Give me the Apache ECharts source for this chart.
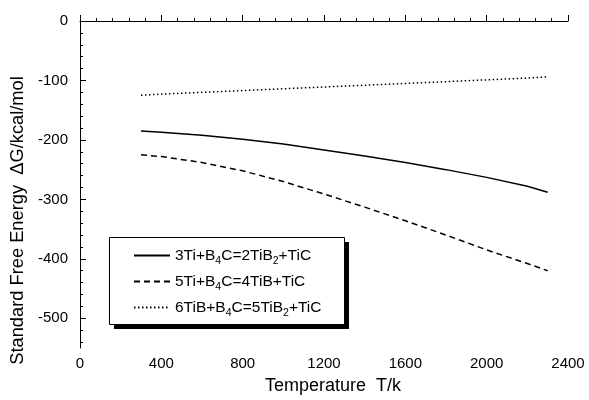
<!DOCTYPE html>
<html><head><meta charset="utf-8">
<script src="https://cdn.jsdelivr.net/npm/echarts@6/dist/echarts.min.js"></script>
<style>html,body{margin:0;padding:0;background:#fff}#c{width:589px;height:400px}</style>
</head><body><div id="c"></div>
<script>
const temps = [300, 400, 600, 800, 1000, 1200, 1400, 1600, 1800, 2000, 2200, 2300];
const r1 = [-185, -187, -192, -199, -207, -217, -227, -238, -250, -263, -278, -288];
const r2 = [-225, -228, -238, -252, -270, -291, -313, -336, -360, -385, -408, -420];
const r3 = [-125, -123, -120, -117, -114, -111, -108, -105, -102, -99, -96, -94];
const names = ['3Ti+B4C=2TiB2+TiC', '5Ti+B4C=4TiB+TiC', '6TiB+B4C=5TiB2+TiC'];
const legendRich = {
  '3Ti+B4C=2TiB2+TiC': '{a|3Ti+B}{s|4}{a|C=2TiB}{s|2}{a|+TiC}',
  '5Ti+B4C=4TiB+TiC': '{a|5Ti+B}{s|4}{a|C=4TiB+TiC}',
  '6TiB+B4C=5TiB2+TiC': '{a|6TiB+B}{s|4}{a|C=5TiB}{s|2}{a|+TiC}'
};
const yMajor = [0, -100, -200, -300, -400, -500];
const yMinor = [];
for (let v = 0; v >= -550; v -= 20) yMinor.push(v);

const font = 'Liberation Sans, Arial, sans-serif';
const chart = echarts.init(document.getElementById('c'));
const mk = (name, data, type) => ({
  name, type: 'line', symbol: 'none', showSymbol: false,
  data: temps.map((t, i) => [t, data[i]]),
  lineStyle: { color: '#000', width: type === 'dotted' ? 1.3 : 1.5, type },
  itemStyle: { color: '#000', opacity: 0 }, animation: false
});
chart.setOption({
  animation: false,
  grid: { left: 80, top: 21, right: 21, bottom: 50 },
  graphic: [
    { type: 'rect', z: 50, silent: true, shape: { x: 114, y: 242, width: 235, height: 87 }, style: { fill: '#000' } },
    { type: 'rect', z: 51, silent: true, shape: { x: 109.5, y: 237.5, width: 235, height: 87 }, style: { fill: '#fff', stroke: '#000', lineWidth: 1 } }
  ],
  legend: {
    z: 60,
    data: names, orient: 'vertical', left: 109, top: 237,
    padding: [7, 21, 8, 24], itemGap: 3, itemWidth: 36, itemHeight: 14,
    itemStyle: { opacity: 0 },
    formatter: n => legendRich[n],
    textStyle: {
      color: '#000', fontFamily: font, fontSize: 15.5,
      rich: {
        a: { fontFamily: font, fontSize: 15.5, lineHeight: 22, color: '#000' },
        s: { fontFamily: font, fontSize: 10.5, lineHeight: 10, padding: [12, 0, 0, 0], color: '#000' }
      }
    }
  },
  xAxis: {
    type: 'value', min: 0, max: 2400, interval: 400,
    name: 'Temperature  T/k', nameLocation: 'middle', nameGap: 29,
    nameTextStyle: { color: '#000', fontFamily: font, fontSize: 18, padding: [0, 0, 0, 18] },
    axisLine: { lineStyle: { color: '#000', width: 1 } },
    axisTick: { inside: true, length: 6, lineStyle: { color: '#000' } },
    minorTick: { show: true, splitNumber: 5, length: 3, lineStyle: { color: '#000' } },
    axisLabel: { color: '#000', fontFamily: font, fontSize: 15, margin: 8, formatter: v => String(v) },
    splitLine: { show: false }
  },
  yAxis: [{
    type: 'value', min: -550, max: 0,
    name: 'Standard Free Energy  \u0394G/kcal/mol', nameLocation: 'middle', nameGap: 41,
    nameTextStyle: { color: '#000', fontFamily: font, fontSize: 18.3, padding: [0, 72, 0, 0] },
    axisLine: { show: true, lineStyle: { color: '#000', width: 1 } },
    axisTick: { inside: true, length: 6, customValues: yMajor, lineStyle: { color: '#000' } },
    axisLabel: { color: '#000', fontFamily: font, fontSize: 15, margin: 12, customValues: yMajor, formatter: v => String(v) },
    splitLine: { show: false }
  }, {
    type: 'value', min: -550, max: 0, position: 'left',
    axisLine: { show: false },
    axisTick: { show: true, inside: true, length: 3, customValues: yMinor, lineStyle: { color: '#000' } },
    axisLabel: { show: false }, splitLine: { show: false }
  }],
  series: [mk(names[0], r1, 'solid'), mk(names[1], r2, [6, 4]), mk(names[2], r3, [1.5, 2.5])]
});
</script></body></html>
